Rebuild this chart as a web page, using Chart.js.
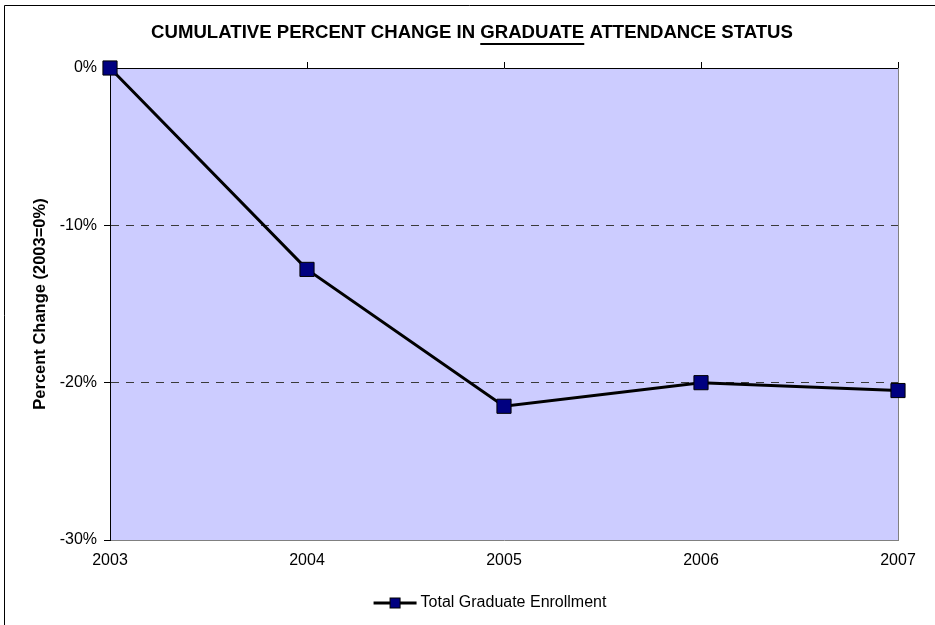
<!DOCTYPE html>
<html>
<head>
<meta charset="utf-8">
<script src="https://cdn.jsdelivr.net/npm/chart.js@4/dist/chart.umd.min.js"></script>
<style>
body { margin: 0; background: #fff; }
</style>
</head>
<body>
<canvas id="myChart" width="935" height="625"></canvas>
<script>
let years = ["2003", "2004", "2005", "2006", "2007"]
let enrollment = [0, -12.8, -21.5, -20.0, -20.5]
let yMin = -30, yMax = 0, yStep = 10
let titleParts = ["CUMULATIVE PERCENT CHANGE IN ", "GRADUATE", " ATTENDANCE STATUS"]
let yTitle = "Percent Change (2003=0%)"
let seriesName = "Total Graduate Enrollment"

const FONT = "'Liberation Sans', Arial, sans-serif"

// background, outer frame, plot fill
const framePlugin = {
    id: 'frame',
    beforeDraw(chart) {
        let ctx = chart.ctx, a = chart.chartArea
        ctx.save()
        ctx.fillStyle = '#fff'
        ctx.fillRect(0, 0, chart.width, chart.height)
        ctx.strokeStyle = '#000'
        ctx.lineWidth = 1
        ctx.beginPath()
        ctx.moveTo(4.5, chart.height)
        ctx.lineTo(4.5, 5.5)
        ctx.lineTo(chart.width, 5.5)
        ctx.stroke()
        ctx.fillStyle = '#ccccff'
        ctx.fillRect(a.left, a.top, a.right - a.left, a.bottom - a.top)
        ctx.restore()
    },
    beforeDatasetsDraw(chart) {
        let ctx = chart.ctx, a = chart.chartArea
        ctx.save()
        ctx.strokeStyle = '#808080'
        ctx.lineWidth = 1
        ctx.beginPath()
        ctx.moveTo(a.right + 0.5, a.top)
        ctx.lineTo(a.right + 0.5, a.bottom)
        ctx.stroke()
        ctx.restore()
    }
}

// title with the underlined word, and the legend entry
const textPlugin = {
    id: 'texts',
    afterDraw(chart) {
        let ctx = chart.ctx
        ctx.save()
        ctx.font = "bold 18.6px " + FONT
        ctx.fillStyle = '#000'
        ctx.textBaseline = 'middle'
        let widths = titleParts.map(t => ctx.measureText(t).width)
        let total = widths.reduce((s, w) => s + w, 0)
        let x = 472 - total / 2, y = 33
        titleParts.forEach((t, i) => {
            ctx.fillText(t, x, y)
            if (i === 1) {
                ctx.fillRect(x, y + 10, widths[i], 2)
            }
            x += widths[i]
        })

        // legend
        let ds = chart.data.datasets[0]
        ctx.font = "16px " + FONT
        let tw = ctx.measureText(ds.label).width
        let lineLen = 43, gap = 4
        let lx = 490 - (lineLen + gap + tw) / 2, ly = 603
        ctx.strokeStyle = ds.borderColor
        ctx.lineWidth = ds.borderWidth
        ctx.beginPath()
        ctx.moveTo(lx, ly)
        ctx.lineTo(lx + lineLen, ly)
        ctx.stroke()
        ctx.fillStyle = ds.pointBackgroundColor
        ctx.lineWidth = 1
        ctx.fillRect(lx + lineLen / 2 - 5, ly - 5, 10, 10)
        ctx.strokeRect(lx + lineLen / 2 - 5, ly - 5, 10, 10)
        ctx.fillStyle = '#000'
        ctx.textAlign = 'left'
        ctx.fillText(ds.label, lx + lineLen + gap, ly)
        ctx.restore()
    }
}

let mychart = document.getElementById('myChart').getContext('2d')
let chart = new Chart(mychart, {
    type: 'line',
    data: {
        labels: years,
        datasets: [{
            label: seriesName,
            data: enrollment,
            borderColor: '#000000',
            borderWidth: 3,
            pointStyle: 'rect',
            pointRadius: 10,
            pointBackgroundColor: '#000080',
            pointBorderColor: '#000000',
            pointBorderWidth: 1,
            tension: 0,
            clip: false
        }]
    },
    options: {
        responsive: false,
        animation: false,
        events: [],
        devicePixelRatio: 1,
        layout: { padding: { left: 0, right: 37, top: 60, bottom: 0 } },
        plugins: {
            legend: { display: false },
            title: { display: false },
            tooltip: { enabled: false }
        },
        scales: {
            x: {
                type: 'category',
                position: 'bottom',
                offset: false,
                grid: { drawOnChartArea: false, drawTicks: false },
                border: { color: '#808080', width: 1 },
                ticks: { color: '#000', font: { family: FONT, size: 16 }, padding: 11, maxRotation: 0, autoSkip: false },
                afterFit: s => { s.height = 85 }
            },
            xTop: {
                type: 'category',
                axis: 'x',
                position: 'top',
                offset: false,
                grid: { drawOnChartArea: false, tickLength: 6, color: '#000', tickColor: '#000' },
                border: { color: '#000', width: 1 },
                ticks: { display: false },
                afterFit: s => { s.height = 8 }
            },
            y: {
                min: yMin,
                max: yMax,
                ticks: {
                    stepSize: yStep,
                    color: '#000',
                    font: { family: FONT, size: 16 },
                    padding: 7,
                    callback: v => v + '%'
                },
                grid: {
                    color: c => (c.tick && (c.tick.value === yMin || c.tick.value === yMax)) ? 'rgba(0,0,0,0)' : '#3a3a3a',
                    tickColor: '#000',
                    tickLength: 6,
                    lineWidth: 1
                },
                border: { color: '#000', width: 1, dash: [8, 7] },
                title: {
                    display: true,
                    text: yTitle,
                    color: '#000',
                    font: { family: FONT, size: 16.5, weight: 'bold' },
                    padding: { top: 31, bottom: 0 }
                },
                afterFit: s => { s.width = 110 }
            }
        }
    },
    plugins: [framePlugin, textPlugin]
})
</script>
</body>
</html>
